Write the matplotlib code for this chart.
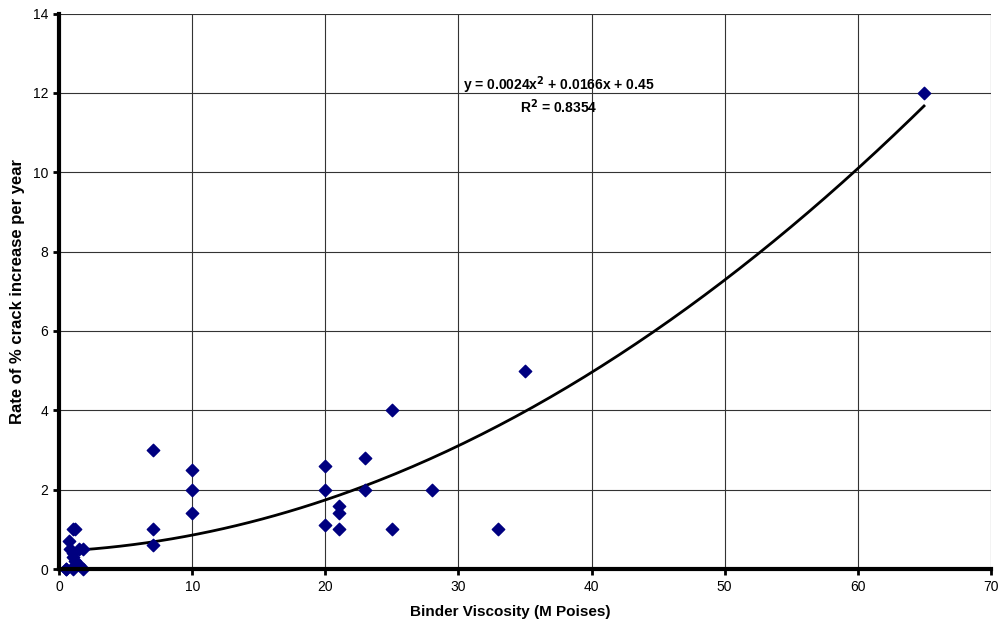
import numpy as np
import matplotlib.pyplot as plt

plt.rcParams['font.family'] = ['Liberation Sans', 'DejaVu Sans']

# binder viscosity (M Poises) vs rate of % crack increase per year
viscosity = [0.5, 0.7, 0.8, 1.0, 1.2, 1.0, 1.5, 1.8, 1.0, 1.2, 1.2, 0.5, 1.0, 1.8, 1.5,
             7, 7, 7, 10, 10, 10, 20, 20, 20, 21, 21, 21, 23, 23, 25, 25, 28, 33, 35, 65]
crack_rate = [0.0, 0.7, 0.5, 1.0, 1.0, 0.4, 0.5, 0.5, 0.3, 0.2, 0.1, 0.0, 0.0, 0.0, 0.1,
              3.0, 1.0, 0.6, 2.5, 2.0, 1.4, 2.6, 2.0, 1.1, 1.6, 1.4, 1.0, 2.8, 2.0, 4.0, 1.0, 2.0, 1.0, 5.0, 12.0]

# polynomial trendline as reported on the chart
coef = [0.0024, 0.0166, 0.45]
r2 = 0.8354

fig = plt.figure(figsize=(9.98, 6.28), dpi=100)
ax = fig.add_axes([0.0596, 0.0939, 0.9329, 0.8846])

ax.set_xlim(0, 70)
ax.set_ylim(0, 14)
ax.set_xticks(range(0, 71, 10))
ax.set_yticks(range(0, 15, 2))
ax.grid(True, color='#333333', linewidth=0.8)
ax.set_axisbelow(True)

xs = np.linspace(min(viscosity) + 0.2, max(viscosity), 200)
ax.plot(xs, np.polyval(coef, xs), color='black', linewidth=2, zorder=3)
ax.scatter(viscosity, crack_rate, marker='D', s=40, color='#000080', zorder=4, clip_on=False)

for side in ['top', 'right']:
    ax.spines[side].set_visible(False)
for side in ['left', 'bottom']:
    ax.spines[side].set_linewidth(3)
    ax.spines[side].set_zorder(5)

ax.tick_params(axis='both', direction='out', length=4, width=2, labelsize=10, pad=4)

ax.set_xlabel('Binder Viscosity (M Poises)', fontsize=11, fontweight='bold')
ax.xaxis.set_label_coords(0.484, -0.065)
ax.set_ylabel('Rate of % crack increase per year', fontsize=12, fontweight='bold')
ax.yaxis.set_label_coords(-0.037, 0.5)

ax.text(37.5, 12.2, 'y = %.4fx$^\\mathbf{2}$ + %.4fx + %.2f' % tuple(coef),
        ha='center', va='center', fontsize=10, fontweight='bold')
ax.text(37.5, 11.64, 'R$^\\mathbf{2}$ = %.4f' % r2,
        ha='center', va='center', fontsize=10, fontweight='bold')

fig.savefig('out.png', dpi=100)
